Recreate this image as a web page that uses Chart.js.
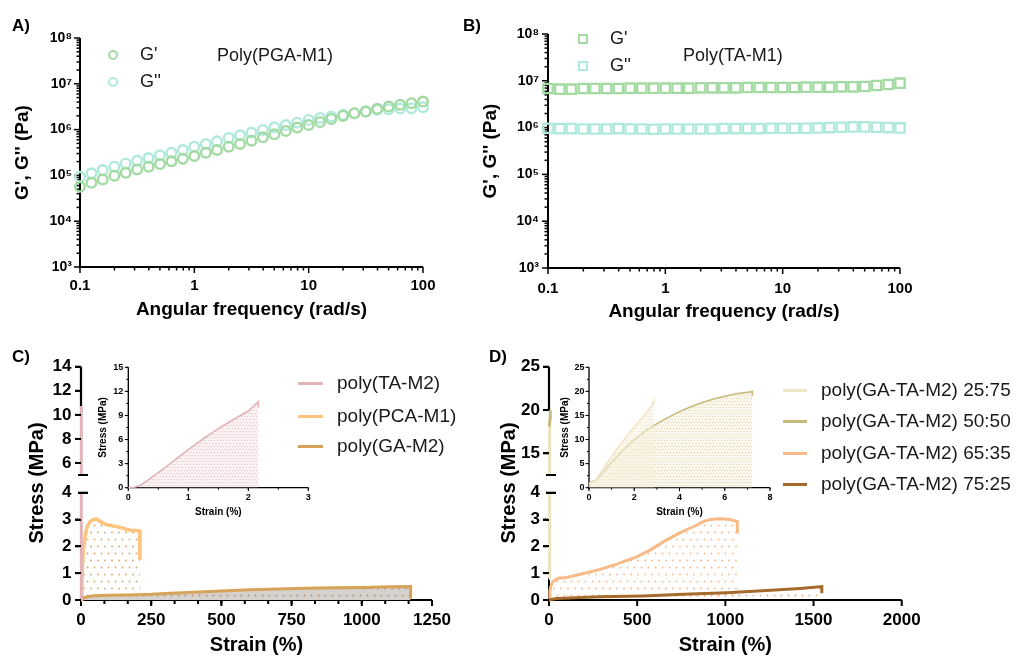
<!DOCTYPE html>
<html><head><meta charset="utf-8">
<script src="https://cdn.jsdelivr.net/npm/chart.js@4.4.1/dist/chart.umd.min.js"></script>
<style>
body{margin:0;background:#fff}
#wrap{position:relative;width:1016px;height:657px;overflow:hidden;background:#fff;font-family:"Liberation Sans",Arial,sans-serif;color:#111}
canvas{position:absolute}
.t{position:absolute;white-space:nowrap}
</style></head><body><div id="wrap"></div>
<script>
// ---------- DATA ----------
const freq = [0.1, 0.126, 0.158, 0.2, 0.251, 0.316, 0.398, 0.501, 0.631, 0.794, 1, 1.26, 1.58, 2, 2.51, 3.16, 3.98, 5.01, 6.31, 7.94, 10, 12.6, 15.8, 20, 25.1, 31.6, 39.8, 50.1, 63.1, 79.4, 100];
const pgaGp  = [56500, 69000, 81700, 98400, 114000, 135000, 155000, 177000, 203000, 232000, 265000, 313000, 359000, 424000, 485000, 574000, 679000, 790000, 935000, 1110000, 1260000, 1470000, 1710000, 1990000, 2280000, 2480000, 2840000, 3190000, 3470000, 3770000, 4100000];
const pgaGpp = [93500, 111000, 131000, 155000, 183000, 210000, 240000, 274000, 313000, 359000, 424000, 485000, 556000, 658000, 752000, 860000, 984000, 1120000, 1260000, 1420000, 1630000, 1800000, 1930000, 2100000, 2280000, 2480000, 2700000, 2790000, 2880000, 2930000, 3080000];
const taGp  = [6.85e6, 6.63e6, 6.63e6, 6.85e6, 6.85e6, 6.85e6, 6.85e6, 6.96e6, 6.96e6, 6.96e6, 6.96e6, 6.96e6, 6.96e6, 7.08e6, 7.08e6, 7.08e6, 7.08e6, 7.2e6, 7.2e6, 7.2e6, 7.2e6, 7.2e6, 7.31e6, 7.31e6, 7.31e6, 7.44e6, 7.44e6, 7.56e6, 7.94e6, 8.34e6, 8.91e6];
const taGpp = [9.68e5, 9.52e5, 9.52e5, 9.36e5, 9.36e5, 9.36e5, 9.52e5, 9.36e5, 9.36e5, 9.21e5, 9.36e5, 9.36e5, 9.36e5, 9.36e5, 9.36e5, 9.52e5, 9.52e5, 9.52e5, 9.52e5, 9.68e5, 9.68e5, 9.68e5, 9.68e5, 9.84e5, 1.0e6, 1.017e6, 1.033e6, 1.033e6, 1.017e6, 1.0e6, 9.84e5];

const taM2Strain = [0, 0.1, 0.2, 0.3, 0.4, 0.6, 0.8, 1.0, 1.25, 1.5, 1.75, 2.0, 2.17, 2.17];
const taM2Stress = [0, 0.05, 0.3, 0.8, 1.35, 2.45, 3.6, 4.75, 6.1, 7.35, 8.5, 9.55, 10.75, 10.0];
const pcaStrain = [0, 3, 5, 8, 12, 17, 22, 32, 44, 56, 68, 85, 115, 145, 163, 180, 208, 210];
const pcaStress = [0, 0.6, 1.2, 1.8, 2.2, 2.5, 2.73, 2.92, 3.0, 3.02, 2.93, 2.83, 2.76, 2.7, 2.63, 2.6, 2.58, 1.49];
const gaStrain = [0, 10, 25, 50, 100, 200, 250, 300, 400, 500, 600, 700, 800, 900, 1000, 1100, 1174, 1174];
const gaStress = [0, 0.08, 0.13, 0.16, 0.18, 0.2, 0.21, 0.24, 0.29, 0.34, 0.38, 0.41, 0.44, 0.46, 0.47, 0.49, 0.5, 0.05];

const d2575Strain = [0, 0.25, 0.5, 0.75, 1, 1.25, 1.5, 1.75, 2, 2.25, 2.5, 2.75, 2.87, 2.87];
const d2575Stress = [0.8, 1.4, 3.0, 4.8, 6.5, 8.1, 9.7, 11.2, 12.6, 14.0, 15.4, 16.9, 18.1, 17.2];
const d5050Strain = [0, 0.3, 0.6, 1, 1.5, 2, 2.5, 3, 3.5, 4, 4.5, 5, 5.5, 6, 6.5, 7, 7.22, 7.22];
const d5050Stress = [0.9, 1.6, 3.0, 5.3, 7.8, 10.0, 11.8, 13.3, 14.6, 15.8, 16.8, 17.7, 18.4, 19.0, 19.5, 19.8, 20.0, 19.0];
const d6535Strain = [0, 5, 10, 21, 53, 100, 195, 289, 384, 497, 573, 667, 743, 818, 875, 913, 970, 1026, 1068, 1068];
const d6535Stress = [0, 0.35, 0.5, 0.68, 0.81, 0.84, 0.99, 1.14, 1.34, 1.61, 1.86, 2.24, 2.51, 2.73, 2.92, 3.0, 3.03, 3.0, 2.92, 2.48];
const d7525Strain = [0, 43, 289, 535, 762, 1008, 1235, 1424, 1547, 1547];
const d7525Stress = [0, 0.06, 0.12, 0.15, 0.21, 0.27, 0.35, 0.43, 0.5, 0.25];

// tick labels
const aXTicks = [0.1, 1, 10, 100];
const aYTicks = [1e3, 1e4, 1e5, 1e6, 1e7, 1e8];
const cXTicks = [0, 250, 500, 750, 1000, 1250];
const cYBottomTicks = [0, 1, 2, 3, 4];
const cYTopTicks = [6, 8, 10, 12, 14];
const cInsetXTicks = [0, 1, 2, 3];
const cInsetYTicks = [0, 3, 6, 9, 12, 15];
const dXTicks = [0, 500, 1000, 1500, 2000];
const dYBottomTicks = [0, 1, 2, 3, 4];
const dYTopTicks = [15, 20, 25];
const dInsetXTicks = [0, 2, 4, 6, 8];
const dInsetYTicks = [0, 5, 10, 15, 20, 25];

// ---------- HELPERS ----------
const FONT = '"Liberation Sans", Arial, sans-serif';
Chart.defaults.font.family = FONT;
Chart.defaults.color = '#000';
const wrap = document.getElementById('wrap');
const SUP = {3:'\u00B3',4:'\u2074',5:'\u2075',6:'\u2076',7:'\u2077',8:'\u2078'};

function addCanvas(x, y, w, h, z) {
  const c = document.createElement('canvas');
  c.width = w; c.height = h;
  c.style.left = x + 'px'; c.style.top = y + 'px';
  c.style.width = w + 'px'; c.style.height = h + 'px';
  if (z) c.style.zIndex = z;
  wrap.appendChild(c);
  return c;
}
function pts(xs, ys) { return xs.map((x, i) => ({x: x, y: ys[i]})); }
function logMinor(e0, e1) { const o = []; for (let e = e0; e <= e1; e++) for (let k = 2; k <= 9; k++) o.push(k * Math.pow(10, e)); return o; }
function steps(a, b, st) { const o = []; for (let v = a; v <= b + 1e-9; v += st) o.push(v); return o; }
function dots(canvas, color, bg, step, r) {
  const s = document.createElement('canvas');
  s.width = step; s.height = step * 2;
  const g = s.getContext('2d');
  if (bg) { g.fillStyle = bg; g.fillRect(0, 0, s.width, s.height); }
  g.fillStyle = color;
  g.beginPath(); g.arc(step / 2, step / 2, r, 0, Math.PI * 2); g.fill();
  g.beginPath(); g.arc(0, step * 1.5, r, 0, Math.PI * 2); g.arc(step, step * 1.5, r, 0, Math.PI * 2); g.fill();
  return canvas.getContext('2d').createPattern(s, 'repeat');
}
function setTicks(arr) { return s => { s.ticks = arr.map(v => ({value: v})); }; }

function drawYAxis(chart, a, withX) {
  const ctx = chart.ctx, ca = chart.chartArea, s = chart.scales.y;
  ctx.save();
  ctx.strokeStyle = '#000'; ctx.fillStyle = '#000';
  const yEnd = a.lineTo !== undefined ? s.getPixelForValue(a.lineTo) : ca.bottom + (withX ? withX.lw / 2 : 0);
  ctx.fillRect(ca.left - a.lw / 2, ca.top, a.lw, Math.max(0, yEnd - ca.top));
  ctx.lineWidth = a.tw;
  const t = (v, l1, l2) => { const p = s.getPixelForValue(v); ctx.beginPath(); ctx.moveTo(ca.left + l2, p); ctx.lineTo(ca.left - l1, p); ctx.stroke(); };
  (a.minor || []).forEach(v => t(v, a.nl, 0));
  a.major.forEach(v => t(v, a.ml, 0));
  (a.breaks || []).forEach(v => t(v, 3, 7));
  ctx.restore();
}
function axisPlugin(spec) {
  return {
    id: 'axesDraw',
    beforeDatasetsDraw(chart) {
      const ctx = chart.ctx, ca = chart.chartArea;
      if (spec.x) {
        const a = spec.x, s = chart.scales.x;
        ctx.save(); ctx.strokeStyle = '#000';
        ctx.lineWidth = a.lw;
        ctx.beginPath(); ctx.moveTo(ca.left - (spec.y ? spec.y.lw / 2 : 0), ca.bottom); ctx.lineTo(ca.right, ca.bottom); ctx.stroke();
        ctx.lineWidth = a.tw;
        const t = (v, len) => { const p = s.getPixelForValue(v); ctx.beginPath(); ctx.moveTo(p, ca.bottom); ctx.lineTo(p, ca.bottom + len); ctx.stroke(); };
        (a.minor || []).forEach(v => t(v, a.nl));
        a.major.forEach(v => t(v, a.ml));
        ctx.restore();
      }
      if (spec.y && !spec.yOnTop) drawYAxis(chart, spec.y, spec.x);
    },
    afterDatasetsDraw(chart) {
      if (spec.y && spec.yOnTop) drawYAxis(chart, spec.y, spec.x);
    }
  };
}

function zeroPad(s) { s.paddingTop = 0; s.paddingBottom = 0; s.paddingLeft = 0; s.paddingRight = 0; }
function makeChart(c, area, xScale, yScale, datasets, spec) {
  const cx = parseFloat(c.style.left), cy = parseFloat(c.style.top), cw = c.width, ch = c.height;
  const yW = area.l - cx, xH = cy + ch - area.b;
  xScale.afterFit = s => { s.height = xH; zeroPad(s); };
  yScale.afterFit = s => { s.width = yW; zeroPad(s); };
  return new Chart(c, {
    type: 'line',
    data: {datasets: datasets},
    options: {
      responsive: false, animation: false, events: [],
      layout: {autoPadding: false, padding: {left: 0, right: cx + cw - area.r, top: area.t - cy, bottom: 0}},
      plugins: {legend: {display: false}, tooltip: {enabled: false}},
      scales: {x: xScale, y: yScale}
    },
    plugins: [axisPlugin(spec)]
  });
}
// page-level overlay of a broken y axis segment, positioned from the chart's own y scale
function overlayY(chart, c, a) {
  const cx = parseFloat(c.style.left), cy = parseFloat(c.style.top);
  const ca = chart.chartArea, s = chart.scales.y;
  const box = (l, t, w, h) => {
    const d = document.createElement('div');
    d.style.position = 'absolute'; d.style.background = '#000'; d.style.zIndex = 10;
    d.style.left = l + 'px'; d.style.top = t + 'px'; d.style.width = w + 'px'; d.style.height = h + 'px';
    wrap.appendChild(d);
  };
  if (a.lineTo !== undefined) {
    const yEnd = s.getPixelForValue(a.lineTo);
    box(cx + ca.left - a.lw / 2, cy + ca.top, a.lw, Math.max(0, yEnd - ca.top));
  }
  a.major.forEach(v => { const p = s.getPixelForValue(v); box(cx + ca.left - a.ml, cy + p - a.tw / 2, a.ml, a.tw); });
  (a.breaks || []).forEach(v => { const p = s.getPixelForValue(v); box(cx + ca.left - 3, cy + p - a.tw / 2, 10, a.tw); });
}
const noGrid = {display: false, drawTicks: false};
const noBorder = {display: false};
function lin(min, max, ticks, size, pad, extra) {
  return Object.assign({type: 'linear', min: min, max: max, afterBuildTicks: setTicks(ticks),
    ticks: {callback: v => String(v), font: {size: size, weight: 'bold'}, padding: pad, maxRotation: 0, autoSkip: false, color: '#000'},
    grid: noGrid, border: noBorder}, extra || {});
}
function hiddenX(min, max) {
  return {type: 'linear', min: min, max: max, ticks: {display: false}, grid: noGrid, border: noBorder};
}
function lineDs(xs, ys, color, w, fill, clip) {
  return {data: pts(xs, ys), borderColor: color, borderWidth: w, pointRadius: 0, tension: 0,
    fill: fill ? 'origin' : false, backgroundColor: fill || 'rgba(0,0,0,0)', clip: clip};
}
function text(str, x, yc, size, bold, color) {
  const d = document.createElement('div');
  d.className = 't'; d.textContent = str;
  d.style.left = x + 'px'; d.style.top = (yc - size * 0.6) + 'px';
  d.style.fontSize = size + 'px'; d.style.lineHeight = (size * 1.2) + 'px';
  if (bold) d.style.fontWeight = 'bold';
  if (color) d.style.color = color;
  wrap.appendChild(d);
}
function vtext(str, xc, yc, size) {
  const d = document.createElement('div');
  d.className = 't'; d.textContent = str;
  d.style.left = xc + 'px'; d.style.top = yc + 'px';
  d.style.fontSize = size + 'px'; d.style.fontWeight = 'bold'; d.style.color = '#000';
  d.style.lineHeight = '1'; d.style.transform = 'translate(-50%,-50%) rotate(-90deg)';
  wrap.appendChild(d);
}
function mark(xc, yc, w, h, style) {
  const d = document.createElement('div');
  d.style.position = 'absolute'; d.style.boxSizing = 'border-box';
  d.style.left = (xc - w / 2) + 'px'; d.style.top = (yc - h / 2) + 'px';
  d.style.width = w + 'px'; d.style.height = h + 'px';
  Object.assign(d.style, style);
  wrap.appendChild(d);
}

const cGp = '#a2daa2', cGpp = '#afe9dc';
const cTA = '#e3b3ba', cPCA = '#fdc47f', cGA = '#d6a358';
const c2575 = '#f1e6c6', c5050 = '#c6ba7c', c6535 = '#f8bb87', c7525 = '#a66b2c';

// ---------- PANEL A ----------
(function () {
  const c = addCanvas(0, 20, 450, 312);
  const logY = {type: 'logarithmic', min: 1e3, max: 1e8, afterBuildTicks: setTicks(aYTicks),
    ticks: {callback: v => '10' + SUP[Math.round(Math.log10(v))], font: {size: 14, weight: 'bold'}, padding: 8, color: '#000'},
    grid: noGrid, border: noBorder,
    title: {display: true, text: "G', G'' (Pa)", font: {size: 19, weight: 'bold'}, color: '#000', padding: {top: 11, bottom: 0}}};
  const logX = {type: 'logarithmic', min: 0.1, max: 100, afterBuildTicks: setTicks(aXTicks),
    ticks: {callback: v => String(v), font: {size: 15, weight: 'bold'}, padding: 10, maxRotation: 0, autoSkip: false, color: '#000'},
    grid: noGrid, border: noBorder,
    title: {display: true, text: 'Angular frequency (rad/s)', font: {size: 19, weight: 'bold'}, color: '#000', padding: {top: 0, bottom: 10.6}}};
  const ds = [
    {data: pts(freq, pgaGp), showLine: false, pointStyle: 'circle', pointRadius: 4.8, pointBorderWidth: 2.4, pointBorderColor: cGp, pointBackgroundColor: 'rgba(0,0,0,0)', clip: false},
    {data: pts(freq, pgaGpp), showLine: false, pointStyle: 'circle', pointRadius: 4.8, pointBorderWidth: 2.4, pointBorderColor: cGpp, pointBackgroundColor: 'rgba(0,0,0,0)', clip: false}
  ];
  makeChart(c, {l: 80, t: 38, r: 423, b: 267}, logX, logY, ds,
    {x: {lw: 2, tw: 1.5, major: aXTicks, minor: logMinor(-1, 1), ml: 6, nl: 3.5},
     y: {lw: 2, tw: 1.5, major: aYTicks, minor: logMinor(3, 7), ml: 6, nl: 3.5}});
})();

// ---------- PANEL B ----------
(function () {
  const c = addCanvas(470, 16, 546, 318);
  const logY = {type: 'logarithmic', min: 1e3, max: 1e8, afterBuildTicks: setTicks(aYTicks),
    ticks: {callback: v => '10' + SUP[Math.round(Math.log10(v))], font: {size: 14, weight: 'bold'}, padding: 9, color: '#000'},
    grid: noGrid, border: noBorder,
    title: {display: true, text: "G', G'' (Pa)", font: {size: 19, weight: 'bold'}, color: '#000', padding: {top: 9.6, bottom: 0}}};
  const logX = {type: 'logarithmic', min: 0.1, max: 100, afterBuildTicks: setTicks(aXTicks),
    ticks: {callback: v => String(v), font: {size: 15, weight: 'bold'}, padding: 12, maxRotation: 0, autoSkip: false, color: '#000'},
    grid: noGrid, border: noBorder,
    title: {display: true, text: 'Angular frequency (rad/s)', font: {size: 19, weight: 'bold'}, color: '#000', padding: {top: 0, bottom: 10.6}}};
  const ds = [
    {data: pts(freq, taGp), showLine: false, pointStyle: 'rect', pointRadius: 6.6, pointBorderWidth: 2.3, pointBorderColor: cGp, pointBackgroundColor: 'rgba(0,0,0,0)', clip: false},
    {data: pts(freq, taGpp), showLine: false, pointStyle: 'rect', pointRadius: 6.6, pointBorderWidth: 2.3, pointBorderColor: cGpp, pointBackgroundColor: 'rgba(0,0,0,0)', clip: false}
  ];
  makeChart(c, {l: 548, t: 34, r: 900, b: 268}, logX, logY, ds,
    {x: {lw: 2, tw: 1.5, major: aXTicks, minor: logMinor(-1, 1), ml: 6, nl: 3.5},
     y: {lw: 2, tw: 1.5, major: aYTicks, minor: logMinor(3, 7), ml: 6, nl: 3.5}});
})();

// ---------- PANEL C ----------
(function () {
  const cb = addCanvas(0, 480, 470, 177);
  const ct = addCanvas(0, 350, 470, 130, 5);
  const clipB = {left: 5, top: 0, right: 5, bottom: 5};
  const clipT = {left: 5, top: 0, right: 5, bottom: 0};
  const ySpecB = {lw: 2, tw: 2, major: cYBottomTicks.slice(0, 4), ml: 6, breaks: [4]};
  const chB = makeChart(cb, {l: 81, t: 492.7, r: 432, b: 600},
    lin(0, 1250, cXTicks, 17, 10, {title: {display: true, text: 'Strain (%)', font: {size: 20, weight: 'bold'}, color: '#000', padding: {top: 0, bottom: 0}}}),
    lin(0, 4, cYBottomTicks, 17, 9.5),
    [lineDs(taM2Strain, taM2Stress, cTA, 3, null, clipB),
     lineDs(gaStrain, gaStress, cGA, 3, dots(cb, '#b09068', '#d4d1ce', 7, 0.9), clipB),
     lineDs(pcaStrain, pcaStress, cPCA, 3.5, dots(cb, '#d4aa66', null, 7, 0.9), clipB)],
    {x: {lw: 2, tw: 2, major: cXTicks, minor: steps(0, 1250, 250 / 3), ml: 6, nl: 4}, y: ySpecB});
  const ySpecT = {lw: 2.2, tw: 2, major: cYTopTicks, ml: 6, breaks: [5], lineTo: Math.max(...taM2Stress)};
  const chT = makeChart(ct, {l: 81, t: 366.7, r: 432, b: 475},
    hiddenX(0, 1250),
    lin(5, 14, cYTopTicks, 17, 9.5),
    [lineDs(taM2Strain, taM2Stress, cTA, 3, null, clipT)],
    {yOnTop: true, y: ySpecT});
  overlayY(chT, ct, ySpecT);
  overlayY(chB, cb, ySpecB);
  const ci = addCanvas(90, 355, 230, 165);
  makeChart(ci, {l: 128.3, t: 367.3, r: 308.3, b: 487.7},
    lin(0, 3, cInsetXTicks, 9, 4.5, {title: {display: true, text: 'Strain (%)', font: {size: 10, weight: 'bold'}, color: '#000', padding: {top: 0, bottom: 2}}}),
    lin(0, 15, cInsetYTicks, 9, 5, {title: {display: true, text: 'Stress (MPa)', font: {size: 10, weight: 'bold'}, color: '#000', padding: {top: 7, bottom: 0}}}),
    [lineDs(taM2Strain, taM2Stress, cTA, 1.6, dots(ci, '#eac6cc', 'rgba(246,228,231,0.45)', 3, 0.7), 1)],
    {x: {lw: 1.3, tw: 1, major: cInsetXTicks, minor: steps(0, 3, 0.5), ml: 3.5, nl: 2},
     y: {lw: 1.3, tw: 1, major: cInsetYTicks, minor: steps(0, 15, 1.5), ml: 3.5, nl: 2}});
  vtext('Stress (MPa)', 36, 483, 20);
  [[cTA, 'poly(TA-M2)', 383], [cPCA, 'poly(PCA-M1)', 416], [cGA, 'poly(GA-M2)', 446]].forEach(r => {
    mark(310.5, r[2], 25, 3, {background: r[0]});
    text(r[1], 337, r[2], 19, false, '#1a1a1a');
  });
})();

// ---------- PANEL D ----------
(function () {
  const cb = addCanvas(470, 480, 546, 177);
  const ct = addCanvas(470, 350, 546, 130, 5);
  const clipB = {left: 5, top: 0, right: 5, bottom: 5};
  const clipT = {left: 5, top: 0, right: 5, bottom: 0};
  const ySpecB = {lw: 2, tw: 2, major: dYBottomTicks.slice(0, 4), ml: 6, breaks: [4]};
  const chB = makeChart(cb, {l: 549, t: 492.7, r: 901.7, b: 600},
    lin(0, 2000, dXTicks, 17, 10, {title: {display: true, text: 'Strain (%)', font: {size: 20, weight: 'bold'}, color: '#000', padding: {top: 0, bottom: 0}}}),
    lin(0, 4, dYBottomTicks, 17, 9),
    [lineDs(d2575Strain, d2575Stress, c2575, 3, null, clipB),
     lineDs(d5050Strain, d5050Stress, c5050, 3, null, clipB),
     lineDs(d7525Strain, d7525Stress, c7525, 3, dots(cb, '#e8ad7c', null, 7, 0.9), clipB),
     lineDs(d6535Strain, d6535Stress, c6535, 3, dots(cb, '#f6b88a', null, 7, 0.9), clipB)],
    {x: {lw: 2, tw: 2, major: dXTicks, ml: 6}, y: ySpecB});
  const ySpecT = {lw: 2.2, tw: 2, major: dYTopTicks, ml: 6, breaks: [12.5], lineTo: Math.max(...d5050Stress)};
  const chT = makeChart(ct, {l: 549, t: 366.7, r: 901.7, b: 475},
    hiddenX(0, 2000),
    lin(12.5, 25, dYTopTicks, 17, 9),
    [lineDs(d2575Strain, d2575Stress, c2575, 3, null, clipT),
     lineDs(d5050Strain, d5050Stress, c5050, 3, null, clipT)],
    {yOnTop: true, y: ySpecT});
  overlayY(chT, ct, ySpecT);
  overlayY(chB, cb, ySpecB);
  const ci = addCanvas(555, 355, 230, 165);
  makeChart(ci, {l: 589, t: 367.3, r: 770, b: 487.7},
    lin(0, 8, dInsetXTicks, 9, 4.5, {title: {display: true, text: 'Strain (%)', font: {size: 10, weight: 'bold'}, color: '#000', padding: {top: 0, bottom: 2}}}),
    lin(0, 25, dInsetYTicks, 9, 4.5, {title: {display: true, text: 'Stress (MPa)', font: {size: 10, weight: 'bold'}, color: '#000', padding: {top: 4, bottom: 0}}}),
    [lineDs(d2575Strain, d2575Stress, c2575, 1.6, dots(ci, '#efe4c2', 'rgba(248,243,228,0.5)', 3, 0.7), 1),
     lineDs(d5050Strain, d5050Stress, c5050, 1.6, dots(ci, '#e2d8ae', 'rgba(246,241,224,0.5)', 3, 0.7), 1)],
    {x: {lw: 1.3, tw: 1, major: dInsetXTicks, minor: steps(0, 8, 1), ml: 3.5, nl: 2},
     y: {lw: 1.3, tw: 1, major: dInsetYTicks, minor: steps(0, 25, 2.5), ml: 3.5, nl: 2}});
  vtext('Stress (MPa)', 508, 483, 20);
  [[c2575, 'poly(GA-TA-M2) 25:75', 390], [c5050, 'poly(GA-TA-M2) 50:50', 421], [c6535, 'poly(GA-TA-M2) 65:35', 453], [c7525, 'poly(GA-TA-M2) 75:25', 484]].forEach(r => {
    mark(795, r[2], 24, 3, {background: r[0]});
    text(r[1], 821, r[2], 19, false, '#1a1a1a');
  });
})();

// ---------- LABELS & LEGENDS A/B ----------
text('A)', 12, 26, 17, true, '#000');
text('B)', 463, 26, 17, true, '#000');
text('C)', 12, 357, 17, true, '#000');
text('D)', 489, 357, 17, true, '#000');
mark(113, 55, 10, 10, {border: '2.3px solid ' + cGp, borderRadius: '50%'});
mark(113, 82, 10, 10, {border: '2.3px solid ' + cGpp, borderRadius: '50%'});
text("G'", 140, 55, 18, false, '#1a1a1a');
text("G''", 140, 82, 18, false, '#1a1a1a');
text('Poly(PGA-M1)', 217, 56, 18, false, '#1a1a1a');
mark(583, 39, 10, 10, {border: '2.3px solid ' + cGp});
mark(583, 66, 10, 10, {border: '2.3px solid ' + cGpp});
text("G'", 610, 39, 18, false, '#1a1a1a');
text("G''", 610, 66, 18, false, '#1a1a1a');
text('Poly(TA-M1)', 683, 56, 18, false, '#1a1a1a');
</script></body></html>
